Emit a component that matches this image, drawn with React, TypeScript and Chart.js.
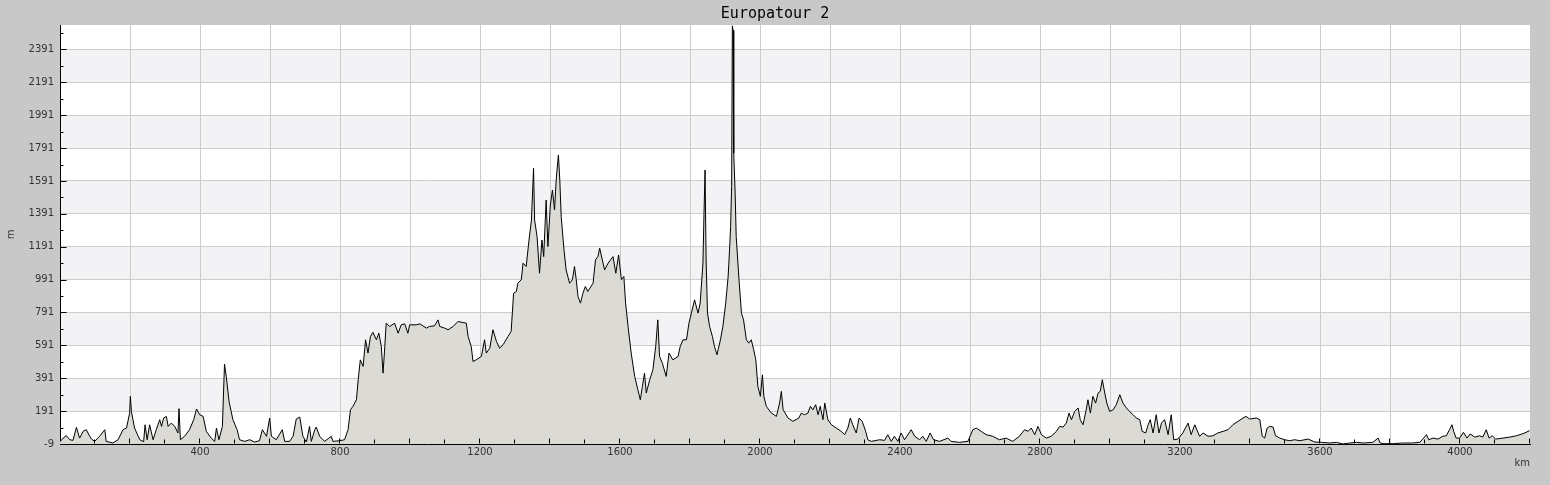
import React, { useEffect, useRef } from "react";
import { Chart, registerables } from "chart.js";

Chart.register(...registerables);

const chartTitle = "Europatour 2";
const xAxisTitle = "km";
const yAxisTitle = "m";

const xGridTicks = [200, 400, 600, 800, 1000, 1200, 1400, 1600, 1800, 2000, 2200, 2400, 2600, 2800, 3000, 3200, 3400, 3600, 3800, 4000];
const xLabelTicks = [400, 800, 1200, 1600, 2000, 2400, 2800, 3200, 3600, 4000];
const yTicks = [-9, 191, 391, 591, 791, 991, 1191, 1391, 1591, 1791, 1991, 2191, 2391];

const profileKm = [
  0, 9, 18, 28, 37, 47, 56, 66, 75, 85,
  90, 99, 113, 128, 132, 151, 166, 180, 190, 199,
  201, 204, 213, 228, 239, 243, 249, 256, 266, 275,
  285, 290, 296, 304, 309, 318, 328, 337, 340, 344,
  356, 370, 382, 390, 399, 409, 418, 432, 442, 447,
  454, 464, 470, 475, 483, 494, 506, 513, 528, 542,
  556, 570, 578, 590, 599, 604, 618, 635, 642, 656,
  666, 675, 685, 694, 704, 713, 718, 728, 732, 742,
  756, 775, 780, 799, 813,
  823, 830, 837, 847, 852, 858, 866, 873, 880, 887,
  894, 904, 911, 918, 923, 928, 932, 942, 956, 966,
  975, 985, 994, 999, 1018, 1028, 1047, 1056, 1070, 1080,
  1085, 1099, 1109, 1123, 1137, 1151, 1161, 1166, 1175, 1180,
  1189, 1204, 1213, 1218, 1228, 1237, 1247, 1256, 1266, 1280,
  1289, 1296, 1304, 1308, 1318, 1323, 1332, 1340, 1347, 1353,
  1356, 1363, 1370, 1377, 1382, 1389, 1394, 1401, 1407, 1413,
  1418, 1424, 1428, 1432, 1440, 1446, 1456, 1464, 1470, 1475,
  1480, 1487, 1494, 1501, 1508, 1523, 1530, 1537,
  1542, 1556, 1566, 1580, 1588, 1596, 1604, 1611, 1616, 1623,
  1632, 1642, 1651, 1658, 1664, 1670, 1675, 1685, 1694, 1702,
  1708, 1713, 1721, 1732, 1740, 1751, 1766, 1772, 1780, 1790,
  1797, 1804, 1813, 1823, 1829, 1837, 1840, 1843, 1846, 1850,
  1856, 1864, 1870, 1877, 1887, 1894, 1902, 1909, 1913, 1916,
  1919, 1921, 1923, 1925, 1929, 1932, 1940, 1947, 1953, 1961,
  1968, 1975, 1982, 1988, 1994, 2001, 2007, 2011, 2018, 2032,
  2047, 2056, 2061, 2066, 2080, 2094, 2111,
  2118, 2127, 2137, 2144, 2151, 2159, 2166, 2172, 2180, 2185,
  2194, 2204, 2218, 2232, 2242, 2251, 2258, 2265, 2275, 2283,
  2292, 2302, 2308, 2318, 2342, 2356, 2365, 2375, 2384, 2394,
  2403, 2413, 2432, 2442, 2456, 2465, 2475, 2486, 2496, 2513,
  2537, 2546, 2570, 2594, 2608, 2618, 2632, 2646, 2665, 2684,
  2703, 2722, 2741,
  2756, 2766, 2775, 2785, 2794, 2804, 2818, 2832, 2847, 2856,
  2866, 2875, 2883, 2890, 2899, 2909, 2915, 2923, 2932, 2937,
  2944, 2951, 2959, 2966, 2972, 2978, 2985, 2991, 2999, 3009,
  3018, 3028, 3037, 3047, 3056, 3066, 3075, 3085, 3092, 3102,
  3109, 3115, 3123, 3132, 3140, 3147, 3156, 3166, 3175, 3182,
  3194, 3208, 3223, 3232, 3242, 3256, 3266, 3280, 3294, 3308,
  3323, 3337, 3351, 3366, 3380, 3389,
  3399, 3418, 3428, 3435, 3442, 3449, 3456, 3466, 3473, 3485,
  3499, 3513, 3528, 3542, 3566, 3585, 3604, 3627, 3647, 3666,
  3685, 3704, 3723, 3751, 3766, 3772, 3780, 3808, 3837, 3865,
  3885, 3896, 3904, 3911, 3923, 3937, 3951, 3961, 3970, 3977,
  3982, 3989, 3999, 4010, 4020, 4029, 4042, 4056, 4065, 4075,
  4083, 4092, 4102, 4123, 4142, 4161, 4180, 4199,
];

const profileM = [
  5, 27, 42, 17, 13, 92, 27, 68, 78, 38,
  21, 7, 38, 78, 7, -3, 17, 78, 88, 179,
  281, 189, 88, 17, 5, 108, 17, 108, 17, 78,
  139, 98, 149, 159, 98, 118, 98, 58, 206, 17,
  38, 78, 139, 204, 169, 159, 68, 27, 7, 88,
  17, 98, 477, 402, 250, 139, 78, 17, 7, 17,
  3, 11, 78, 38, 149, 38, 17, 78, 7, 7,
  38, 143, 155, 38, 3, 98, 7, 78, 94, 38,
  7, 38, 7, 11, 17,
  78, 200, 220, 261, 382, 503, 463, 625, 544, 645,
  670, 625, 665, 584, 422, 584, 726, 706, 726, 665,
  716, 722, 665, 716, 716, 722, 696, 706, 710, 746,
  706, 696, 686, 706, 736, 730, 726, 645, 584, 493,
  503, 524, 625, 544, 574, 686, 615, 574, 595, 645,
  676, 908, 919, 969, 990, 1091, 1071, 1232, 1354, 1668,
  1354, 1253, 1030, 1232, 1131, 1475, 1192, 1445, 1536, 1415,
  1607, 1749, 1597, 1374, 1172, 1050, 969, 990, 1071, 990,
  888, 848, 908, 949, 919, 969, 1111, 1131,
  1182, 1050, 1091, 1131, 1030, 1141, 990, 1010, 848, 706,
  544, 402, 321, 260, 341, 422, 301, 382, 443, 584,
  746, 524, 483, 402, 544, 503, 524, 584, 625, 625,
  726, 787, 868, 787, 848, 1091, 1395, 1658, 1111, 787,
  706, 645, 584, 534, 625, 706, 848, 1010, 1172, 1314,
  1557, 2535, 2508, 1759, 1516, 1253, 990, 787, 746, 625,
  605, 625, 564, 503, 341, 281, 412, 281, 220, 180,
  159, 240, 311, 200, 149, 129, 149,
  179, 169, 179, 220, 199, 230, 169, 220, 139, 240,
  139, 108, 88, 68, 48, 88, 149, 108, 58, 149,
  129, 68, 17, 7, 17, 13, 48, 7, 38, 7,
  58, 17, 78, 38, 17, 38, 7, 58, 17, 7,
  27, 7, 1, 7, 78, 88, 68, 48, 38, 17,
  27, 7, 38,
  78, 68, 88, 48, 98, 48, 27, 38, 68, 98,
  94, 118, 179, 139, 189, 210, 139, 108, 199, 260,
  179, 281, 240, 301, 311, 382, 301, 240, 189, 199,
  230, 291, 240, 210, 189, 169, 149, 139, 68, 58,
  108, 139, 58, 169, 58, 118, 139, 48, 169, 17,
  21, 58, 118, 48, 108, 38, 58, 38, 41, 58,
  68, 78, 108, 129, 149, 159,
  143, 149, 139, 38, 27, 88, 98, 94, 41, 27,
  17, 11, 17, 11, 21, 3, 1, -3, 1, -9,
  -3, 1, -3, 1, 27, -3, -7, -7, -3, -3,
  1, 27, 48, 17, 27, 21, 38, 41, 78, 108,
  68, 27, 27, 62, 27, 52, 33, 41, 33, 78,
  27, 41, 21, 27, 33, 41, 54, 72,
];

const X_MIN = 0;
const X_MAX = 4200;
const Y_MIN = -9;
const Y_MAX = 2540;

const PAGE_BG = "#c8c8c8";
const PLOT_BG = "#ffffff";
const BAND_BG = "#f3f2f5";
const GRID = "#cccccc";
const FILL = "#dbdad5";
const TEXT = "#333333";

const chromePlugin = {
  id: "chrome",
  beforeDraw(chart: any) {
    const { ctx, chartArea: a, scales } = chart;
    const y = scales.y;
    ctx.save();
    ctx.fillStyle = PAGE_BG;
    ctx.fillRect(0, 0, chart.width, chart.height);
    ctx.fillStyle = PLOT_BG;
    ctx.fillRect(a.left, a.top, a.right - a.left, a.bottom - a.top);
    ctx.fillStyle = BAND_BG;
    for (let i = 1; i < yTicks.length; i += 2) {
      const lo = yTicks[i];
      const hi = i + 1 < yTicks.length ? yTicks[i + 1] : Y_MAX;
      const p1 = Math.round(y.getPixelForValue(hi));
      const p2 = Math.round(y.getPixelForValue(lo));
      ctx.fillRect(a.left, p1, a.right - a.left, p2 - p1);
    }
    ctx.restore();
  },
  afterDraw(chart: any) {
    const { ctx, chartArea: a, scales } = chart;
    const x = scales.x;
    const y = scales.y;
    ctx.save();
    ctx.strokeStyle = "#000000";
    ctx.lineWidth = 1;
    ctx.beginPath();
    const left = Math.round(a.left) + 0.5;
    const bottom = Math.round(a.bottom) - 0.5;
    yTicks.forEach((v) => {
      const p = Math.round(y.getPixelForValue(v)) + 0.5;
      ctx.moveTo(left, p);
      ctx.lineTo(left + 6, p);
      const pm = Math.round(y.getPixelForValue(v + 100)) + 0.5;
      ctx.moveTo(left, pm);
      ctx.lineTo(left + 3, pm);
    });
    [...xGridTicks, X_MAX].forEach((v) => {
      const p = Math.round(x.getPixelForValue(v)) - 0.5;
      ctx.moveTo(p, bottom);
      ctx.lineTo(p, bottom - 5);
      const pm = Math.round(x.getPixelForValue(v - 100)) - 0.5;
      ctx.moveTo(pm, bottom);
      ctx.lineTo(pm, bottom - 4);
    });
    ctx.stroke();
    ctx.restore();
  },
};

export default function App() {
  const ref = useRef<HTMLCanvasElement>(null);

  useEffect(() => {
    document.body.style.margin = "0";
    document.body.style.background = PAGE_BG;
    const canvas = ref.current;
    if (!canvas) return;
    const tickFont = { family: "DejaVu Sans", size: 10 };
    const chart = new Chart(canvas, {
      type: "line",
      data: {
        datasets: [
          {
            data: profileKm.map((km, i) => ({ x: km, y: profileM[i] })),
            borderColor: "#000000",
            borderWidth: 1,
            backgroundColor: FILL,
            fill: "start",
            pointRadius: 0,
            tension: 0,
          },
        ],
      },
      options: {
        responsive: false,
        animation: false,
        devicePixelRatio: 1,
        layout: { padding: { left: 20, right: 20, top: 0, bottom: 0 } },
        plugins: {
          legend: { display: false },
          tooltip: { enabled: false },
          title: {
            display: true,
            text: chartTitle,
            color: "#000000",
            font: { family: "DejaVu Sans Mono", size: 15, weight: "normal" },
            padding: { top: 5, bottom: 2 },
          },
        },
        scales: {
          x: {
            type: "linear",
            min: X_MIN,
            max: X_MAX,
            afterBuildTicks: (s: any) => {
              s.ticks = xGridTicks.map((v) => ({ value: v }));
            },
            afterFit: (s: any) => {
              s.height = 41;
            },
            ticks: {
              autoSkip: false,
              maxRotation: 0,
              padding: 2.5,
              color: TEXT,
              font: tickFont,
              callback: (v: any) => (xLabelTicks.includes(Number(v)) ? String(v) : ""),
            },
            grid: { color: GRID, lineWidth: 1, drawTicks: false },
            border: { display: true, color: "#000000", width: 1 },
            title: {
              display: true,
              text: xAxisTitle,
              align: "end",
              color: TEXT,
              font: tickFont,
              padding: { top: 0, bottom: 15.5 },
            },
          },
          y: {
            type: "linear",
            min: Y_MIN,
            max: Y_MAX,
            afterBuildTicks: (s: any) => {
              s.ticks = yTicks.map((v) => ({ value: v }));
            },
            afterFit: (s: any) => {
              s.width = 40;
            },
            ticks: {
              padding: 6,
              color: TEXT,
              font: tickFont,
              callback: (v: any) => String(v),
            },
            grid: { color: GRID, lineWidth: 1, drawTicks: false },
            border: { display: true, color: "#000000", width: 1 },
            title: {
              display: true,
              text: yAxisTitle,
              color: TEXT,
              font: tickFont,
              padding: { top: -14.5, bottom: 0 },
            },
          },
        },
      } as any,
      plugins: [chromePlugin],
    });
    return () => chart.destroy();
  }, []);

  return (
    <div style={{ width: 1550, height: 485 }}>
      <canvas ref={ref} width={1550} height={485} style={{ display: "block" }} />
    </div>
  );
}
